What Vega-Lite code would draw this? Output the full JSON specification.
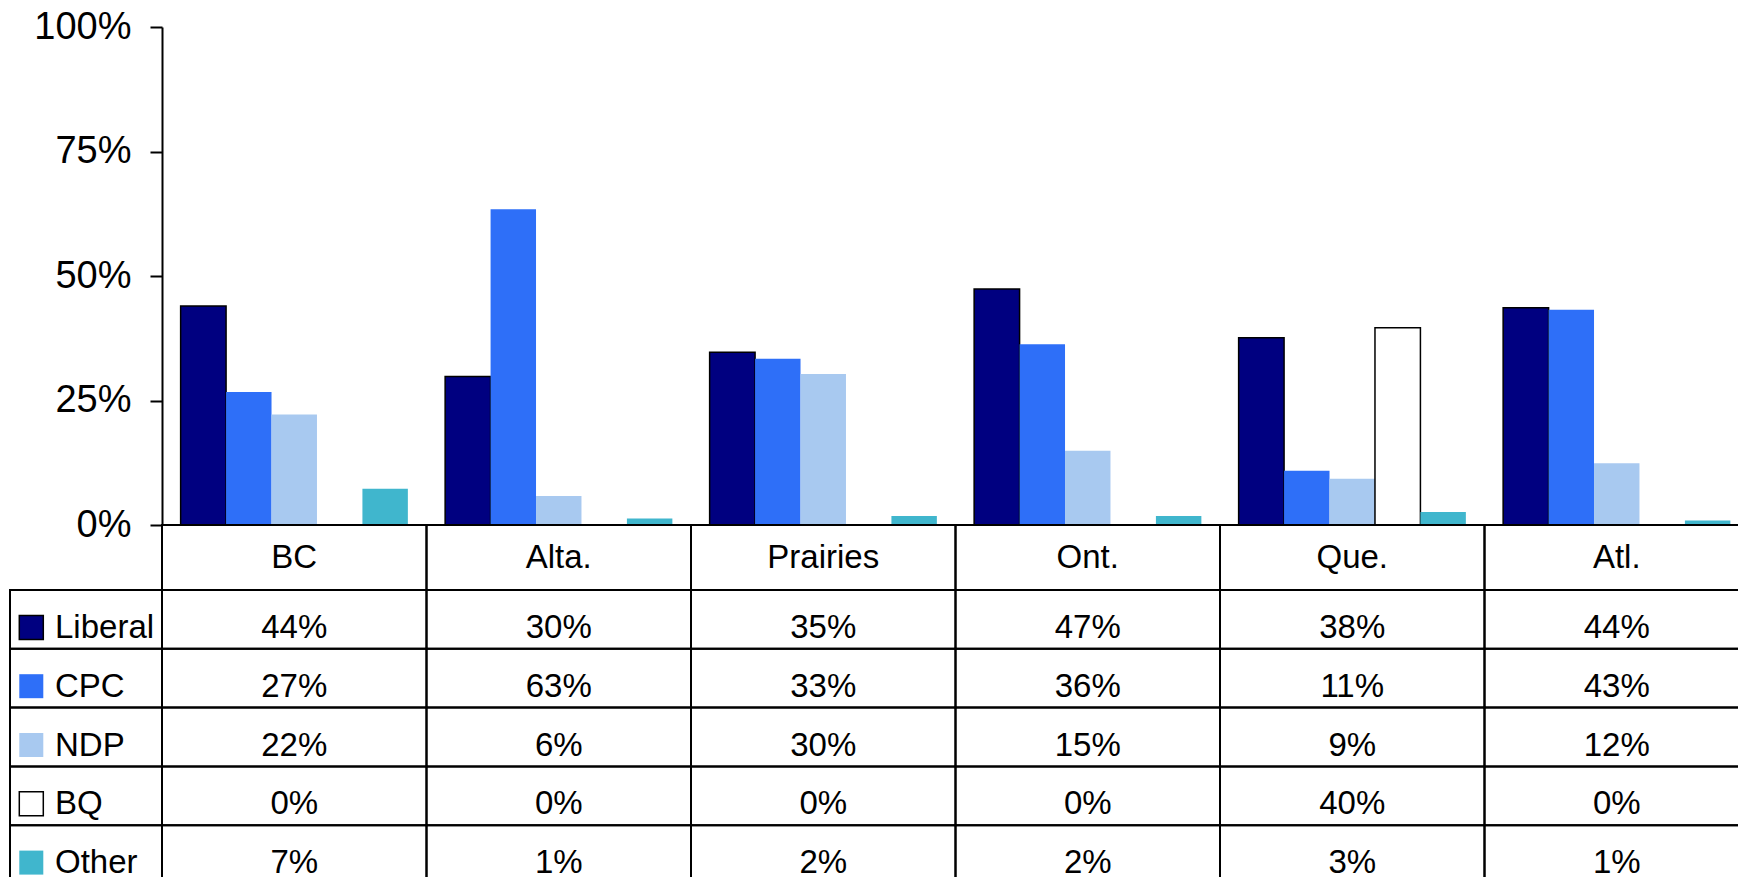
{
  "$schema": "https://vega.github.io/schema/vega-lite/v6.json",
  "width": 1576,
  "height": 850,
  "autosize": {"type": "none"},
  "padding": {"left": 162, "top": 27, "right": 0, "bottom": 0},
  "background": "white",
  "config": {
    "view": {"stroke": null},
    "text": {"font": "Liberation Sans, Arial, sans-serif", "fontSize": 33, "color": "#000000"},
    "axis": {"labelFont": "Liberation Sans, Arial, sans-serif"}
  },
  "datasets": {
    "votes": [
      {"region": "BC", "party": "Liberal", "value": 0.44},
      {"region": "BC", "party": "CPC", "value": 0.267},
      {"region": "BC", "party": "NDP", "value": 0.222},
      {"region": "BC", "party": "BQ", "value": 0},
      {"region": "BC", "party": "Other", "value": 0.073},
      {"region": "Alta.", "party": "Liberal", "value": 0.298},
      {"region": "Alta.", "party": "CPC", "value": 0.634},
      {"region": "Alta.", "party": "NDP", "value": 0.058},
      {"region": "Alta.", "party": "BQ", "value": 0},
      {"region": "Alta.", "party": "Other", "value": 0.013},
      {"region": "Prairies", "party": "Liberal", "value": 0.347},
      {"region": "Prairies", "party": "CPC", "value": 0.334},
      {"region": "Prairies", "party": "NDP", "value": 0.303},
      {"region": "Prairies", "party": "BQ", "value": 0},
      {"region": "Prairies", "party": "Other", "value": 0.018},
      {"region": "Ont.", "party": "Liberal", "value": 0.474},
      {"region": "Ont.", "party": "CPC", "value": 0.363},
      {"region": "Ont.", "party": "NDP", "value": 0.149},
      {"region": "Ont.", "party": "BQ", "value": 0},
      {"region": "Ont.", "party": "Other", "value": 0.018},
      {"region": "Que.", "party": "Liberal", "value": 0.376},
      {"region": "Que.", "party": "CPC", "value": 0.109},
      {"region": "Que.", "party": "NDP", "value": 0.093},
      {"region": "Que.", "party": "BQ", "value": 0.396},
      {"region": "Que.", "party": "Other", "value": 0.026},
      {"region": "Atl.", "party": "Liberal", "value": 0.436},
      {"region": "Atl.", "party": "CPC", "value": 0.432},
      {"region": "Atl.", "party": "NDP", "value": 0.124},
      {"region": "Atl.", "party": "BQ", "value": 0},
      {"region": "Atl.", "party": "Other", "value": 0.009}
    ],
    "regions": [
      {"region": "BC"}, {"region": "Alta."}, {"region": "Prairies"},
      {"region": "Ont."}, {"region": "Que."}, {"region": "Atl."}
    ],
    "parties": [
      {"party": "Liberal"}, {"party": "CPC"}, {"party": "NDP"}, {"party": "BQ"}, {"party": "Other"}
    ]
  },
  "layer": [
    {
      "data": {"name": "votes"},
      "mark": {"type": "bar", "strokeWidth": 1.5},
      "encoding": {
        "x": {"field": "region", "type": "nominal", "scale": {"domain": ["BC", "Alta.", "Prairies", "Ont.", "Que.", "Atl."], "range": [0, 1587], "paddingInner": 0, "paddingOuter": 0}, "axis": null},
        "xOffset": {"field": "party", "type": "nominal", "scale": {"domain": ["Liberal", "CPC", "NDP", "BQ", "Other"], "paddingInner": 0, "paddingOuter": 0.41}},
        "y": {
          "field": "value", "type": "quantitative",
          "scale": {"domain": [0, 1], "range": [498, 0], "nice": false},
          "axis": {
            "values": [0, 0.25, 0.5, 0.75, 1], "format": ".0%", "title": null, "grid": false,
            "labelFontSize": 38, "labelColor": "#000000", "labelPadding": 19,
            "tickSize": 12, "tickWidth": 2, "tickColor": "#000000",
            "domainColor": "#000000", "domainWidth": 2
          }
        },
        "color": {"field": "party", "type": "nominal", "scale": {"domain": ["Liberal", "CPC", "NDP", "BQ", "Other"], "range": ["#000080", "#2E6FF8", "#A8C9F0", "#FFFFFF", "#40B6CD"]}, "legend": null},
        "stroke": {"condition": {"test": "datum.party === 'Liberal' || datum.party === 'BQ'", "value": "#000000"}, "value": "transparent"}
      }
    },
    {
      "data": {"name": "regions"},
      "mark": {"type": "rect", "fill": "transparent", "stroke": "#000000", "strokeWidth": 2},
      "encoding": {
        "x": {"field": "region", "type": "nominal", "scale": {"domain": ["BC", "Alta.", "Prairies", "Ont.", "Que.", "Atl."], "range": [0, 1587], "paddingInner": 0, "paddingOuter": 0}, "axis": null},
        "y": {"datum": "hdr", "type": "nominal", "scale": {"domain": ["hdr"], "range": [498, 563], "paddingInner": 0, "paddingOuter": 0}, "axis": null}
      }
    },
    {
      "data": {"name": "regions"},
      "mark": {"type": "text", "align": "center", "baseline": "alphabetic", "dy": 10.5},
      "encoding": {
        "x": {"field": "region", "type": "nominal", "scale": {"domain": ["BC", "Alta.", "Prairies", "Ont.", "Que.", "Atl."], "range": [0, 1587], "paddingInner": 0, "paddingOuter": 0}, "axis": null},
        "y": {"datum": "hdr", "type": "nominal", "scale": {"domain": ["hdr"], "range": [498, 563], "paddingInner": 0, "paddingOuter": 0}, "axis": null},
        "text": {"field": "region"}
      }
    },
    {
      "data": {"name": "votes"},
      "mark": {"type": "rect", "fill": "transparent", "stroke": "#000000", "strokeWidth": 2},
      "encoding": {
        "x": {"field": "region", "type": "nominal", "scale": {"domain": ["BC", "Alta.", "Prairies", "Ont.", "Que.", "Atl."], "range": [0, 1587], "paddingInner": 0, "paddingOuter": 0}, "axis": null},
        "y": {"field": "party", "type": "nominal", "scale": {"domain": ["Liberal", "CPC", "NDP", "BQ", "Other"], "range": [563, 857], "paddingInner": 0, "paddingOuter": 0}, "axis": null}
      }
    },
    {
      "data": {"name": "votes"},
      "mark": {"type": "text", "align": "center", "baseline": "alphabetic", "dy": 18.5},
      "encoding": {
        "x": {"field": "region", "type": "nominal", "scale": {"domain": ["BC", "Alta.", "Prairies", "Ont.", "Que.", "Atl."], "range": [0, 1587], "paddingInner": 0, "paddingOuter": 0}, "axis": null},
        "y": {"field": "party", "type": "nominal", "scale": {"domain": ["Liberal", "CPC", "NDP", "BQ", "Other"], "range": [563, 857], "paddingInner": 0, "paddingOuter": 0}, "axis": null},
        "text": {"field": "value", "type": "quantitative", "format": ".0%"}
      }
    },
    {
      "data": {"name": "parties"},
      "mark": {"type": "rect", "fill": "transparent", "stroke": "#000000", "strokeWidth": 2},
      "encoding": {
        "x": {"datum": "legend", "type": "nominal", "scale": {"domain": ["legend"], "range": [-152, 0], "paddingInner": 0, "paddingOuter": 0}, "axis": null},
        "y": {"field": "party", "type": "nominal", "scale": {"domain": ["Liberal", "CPC", "NDP", "BQ", "Other"], "range": [563, 857], "paddingInner": 0, "paddingOuter": 0}, "axis": null}
      }
    },
    {
      "data": {"name": "parties"},
      "mark": {"type": "point", "shape": "square", "filled": true, "size": 576, "strokeWidth": 1.5, "opacity": 1, "xOffset": -54.7, "yOffset": 8},
      "encoding": {
        "x": {"datum": "legend", "type": "nominal", "scale": {"domain": ["legend"], "range": [-152, 0], "paddingInner": 0, "paddingOuter": 0}, "axis": null},
        "y": {"field": "party", "type": "nominal", "scale": {"domain": ["Liberal", "CPC", "NDP", "BQ", "Other"], "range": [563, 857], "paddingInner": 0, "paddingOuter": 0}, "axis": null},
        "color": {"field": "party", "type": "nominal", "scale": {"domain": ["Liberal", "CPC", "NDP", "BQ", "Other"], "range": ["#000080", "#2E6FF8", "#A8C9F0", "#FFFFFF", "#40B6CD"]}, "legend": null},
        "stroke": {"condition": {"test": "datum.party === 'Liberal' || datum.party === 'BQ'", "value": "#000000"}, "value": "transparent"}
      }
    },
    {
      "data": {"name": "parties"},
      "mark": {"type": "text", "align": "left", "baseline": "alphabetic", "dy": 18.5, "dx": -31},
      "encoding": {
        "x": {"datum": "legend", "type": "nominal", "scale": {"domain": ["legend"], "range": [-152, 0], "paddingInner": 0, "paddingOuter": 0}, "axis": null},
        "y": {"field": "party", "type": "nominal", "scale": {"domain": ["Liberal", "CPC", "NDP", "BQ", "Other"], "range": [563, 857], "paddingInner": 0, "paddingOuter": 0}, "axis": null},
        "text": {"field": "party"}
      }
    }
  ],
  "resolve": {"scale": {"x": "independent", "y": "independent"}}
}
